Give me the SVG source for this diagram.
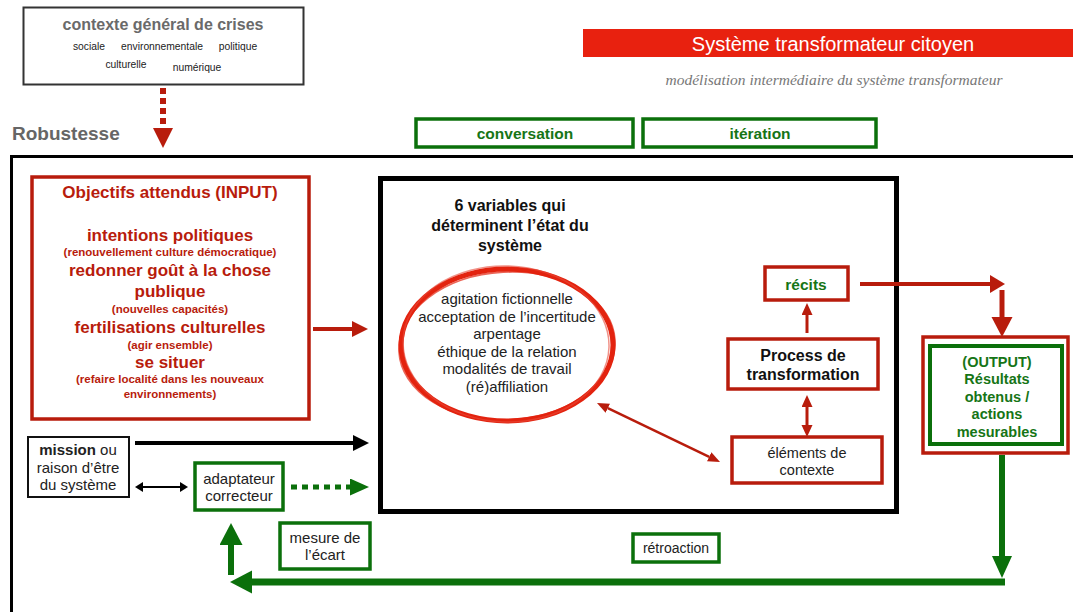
<svg xmlns="http://www.w3.org/2000/svg" width="1073" height="612" viewBox="0 0 1073 612">
<defs>
<style>
text{font-family:"Liberation Sans",Arial,sans-serif;}
.rbox{fill:#fff;stroke:#b81c0c;stroke-width:3.5;}
.gbox{fill:#fff;stroke:#0b700b;stroke-width:3.5;}
.kbox{fill:#fff;stroke:#111;stroke-width:2;}
.rt{fill:#b81c0c;font-weight:bold;text-anchor:middle;}
.gt{fill:#167516;font-weight:bold;text-anchor:middle;}
.kt{fill:#222;text-anchor:middle;}
.red{stroke:#b81c0c;fill:none;}
.grn{stroke:#0b700b;fill:none;}
.blk{stroke:#000;fill:none;}
</style>
<marker id="rA" markerUnits="userSpaceOnUse" markerWidth="20" markerHeight="22" refX="0" refY="8" orient="auto"><path d="M0,0 L16,8 L0,16 z" fill="#b81c0c"/></marker>
<marker id="rR" markerUnits="userSpaceOnUse" markerWidth="20" markerHeight="22" refX="0" refY="9" orient="auto"><path d="M0,0 L15,9 L0,18 z" fill="#b81c0c"/></marker>
<marker id="rD" markerUnits="userSpaceOnUse" markerWidth="24" markerHeight="24" refX="0" refY="10.5" orient="auto"><path d="M0,0 L20,10.5 L0,21 z" fill="#b81c0c"/></marker>
<marker id="rDot" markerUnits="userSpaceOnUse" markerWidth="24" markerHeight="24" refX="0" refY="10" orient="auto"><path d="M0,0 L20,10 L0,20 z" fill="#b81c0c"/></marker>
<marker id="rS" markerUnits="userSpaceOnUse" markerWidth="16" markerHeight="16" refX="0" refY="5.5" orient="auto-start-reverse"><path d="M0,0 L12,5.5 L0,11 z" fill="#b81c0c"/></marker>
<marker id="rT" markerUnits="userSpaceOnUse" markerWidth="16" markerHeight="16" refX="0" refY="5" orient="auto-start-reverse"><path d="M0,0 L12,5 L0,10 z" fill="#b81c0c"/></marker>
<marker id="kA" markerUnits="userSpaceOnUse" markerWidth="20" markerHeight="20" refX="0" refY="8" orient="auto"><path d="M0,0 L16,8 L0,16 z" fill="#000"/></marker>
<marker id="kS" markerUnits="userSpaceOnUse" markerWidth="12" markerHeight="12" refX="0" refY="5" orient="auto-start-reverse"><path d="M0,0 L8,5 L0,10 z" fill="#000"/></marker>
<marker id="gD" markerUnits="userSpaceOnUse" markerWidth="22" markerHeight="20" refX="0" refY="8.5" orient="auto"><path d="M0,0 L19,8.5 L0,17 z" fill="#0b700b"/></marker>
<marker id="gB" markerUnits="userSpaceOnUse" markerWidth="26" markerHeight="26" refX="0" refY="11.5" orient="auto"><path d="M0,0 L22,11.5 L0,23 z" fill="#0b700b"/></marker>
<marker id="gV" markerUnits="userSpaceOnUse" markerWidth="26" markerHeight="24" refX="0" refY="10" orient="auto"><path d="M0,0 L22,10 L0,20 z" fill="#0b700b"/></marker>
</defs>
<rect width="1073" height="612" fill="#fff"/>

<g id="frame">
<path d="M1073,156.5 H11.5 V612" fill="none" stroke="#000" stroke-width="3"/>
<text x="12" y="140" font-size="19" font-weight="bold" fill="#666">Robustesse</text>
</g>

<g id="title">
<rect x="583" y="29" width="490" height="28" fill="#e8210f"/>
<text x="833" y="51" font-size="20" fill="#fff" text-anchor="middle">Système transformateur citoyen</text>
<text x="834" y="85" font-size="15.5" fill="#777" font-style="italic" text-anchor="middle" style="font-family:'Liberation Serif',serif">modélisation intermédiaire du système transformateur</text>
</g>

<g id="contexte">
<rect x="23.5" y="7.5" width="280" height="77" fill="#fff" stroke="#333" stroke-width="2"/>
<text x="163" y="30" font-size="16" font-weight="bold" fill="#6a6a6a" text-anchor="middle">contexte général de crises</text>
<text x="89" y="50" font-size="10.3" class="kt">sociale</text>
<text x="162" y="50" font-size="10.3" class="kt">environnementale</text>
<text x="238" y="50" font-size="10.3" class="kt">politique</text>
<text x="126" y="68" font-size="10.3" class="kt">culturelle</text>
<text x="197" y="71" font-size="10.3" class="kt">numérique</text>
</g>

<g id="conversation">
<rect x="416" y="119" width="217" height="28" class="gbox"/>
<text x="525" y="139" font-size="15.5" class="gt">conversation</text>
</g>
<g id="iteration">
<rect x="643" y="119" width="233" height="28" class="gbox"/>
<text x="760" y="139" font-size="15.5" class="gt">itération</text>
</g>

<g id="input">
<rect x="32" y="177" width="277" height="242" class="rbox"/>
<text x="170" y="198" font-size="17" class="rt">Objectifs attendus (INPUT)</text>
<text x="170" y="241" font-size="17" class="rt">intentions politiques</text>
<text x="170" y="256" font-size="11.5" class="rt">(renouvellement culture démocratique)</text>
<text x="170" y="276" font-size="17" class="rt">redonner goût à la chose</text>
<text x="170" y="297" font-size="17" class="rt">publique</text>
<text x="170" y="313" font-size="11.5" class="rt">(nouvelles capacités)</text>
<text x="170" y="333" font-size="17" class="rt">fertilisations culturelles</text>
<text x="170" y="349" font-size="11.5" class="rt">(agir ensemble)</text>
<text x="170" y="368" font-size="17" class="rt">se situer</text>
<text x="170" y="383" font-size="11.5" class="rt">(refaire localité dans les nouveaux</text>
<text x="170" y="398" font-size="11.5" class="rt">environnements)</text>
</g>

<g id="systeme">
<rect x="380.5" y="178.5" width="516" height="333" fill="#fff" stroke="#000" stroke-width="5"/>
<text x="510" y="211" font-size="16" font-weight="bold" fill="#111" text-anchor="middle">6 variables qui</text>
<text x="510" y="231" font-size="16" font-weight="bold" fill="#111" text-anchor="middle">déterminent l’état du</text>
<text x="510" y="251" font-size="16" font-weight="bold" fill="#111" text-anchor="middle">système</text>
</g>

<g id="variables">
<ellipse cx="507" cy="345" rx="106" ry="76" fill="none" stroke="#e3230f" stroke-width="5"/>
<ellipse cx="507" cy="346" rx="108" ry="74" fill="none" stroke="#e3230f" stroke-width="2" opacity="0.7" transform="rotate(-3 507 346)"/>
<ellipse cx="506" cy="344" rx="103" ry="78" fill="none" stroke="#e84a38" stroke-width="1.5" opacity="0.6" transform="rotate(2 507 345)"/>
<text x="507" y="304" font-size="15" class="kt">agitation fictionnelle</text>
<text x="507" y="322" font-size="15" class="kt">acceptation de l’incertitude</text>
<text x="507" y="339" font-size="15" class="kt">arpentage</text>
<text x="507" y="357" font-size="15" class="kt">éthique de la relation</text>
<text x="507" y="374" font-size="15" class="kt">modalités de travail</text>
<text x="507" y="392" font-size="15" class="kt">(ré)affiliation</text>
</g>

<g id="recits">
<rect x="765" y="267" width="83" height="33" class="rbox"/>
<text x="806" y="290" font-size="15.5" class="gt">récits</text>
</g>
<g id="process">
<rect x="728" y="339" width="150" height="50" class="rbox"/>
<text x="803" y="361" font-size="16" font-weight="bold" fill="#111" text-anchor="middle">Process de</text>
<text x="803" y="380" font-size="16" font-weight="bold" fill="#111" text-anchor="middle">transformation</text>
</g>
<g id="elements">
<rect x="732" y="437" width="150" height="46" class="rbox"/>
<text x="807" y="458" font-size="14.5" class="kt">éléments de</text>
<text x="807" y="475" font-size="14.5" class="kt">contexte</text>
</g>

<g id="output">
<rect x="923" y="337" width="145" height="116" class="rbox"/>
<rect x="930" y="346" width="132" height="98" fill="#fff" stroke="#0b700b" stroke-width="4"/>
<text x="997" y="367" font-size="14.5" class="gt">(OUTPUT)</text>
<text x="997" y="384" font-size="14.5" class="gt">Résultats</text>
<text x="997" y="402" font-size="14.5" class="gt">obtenus /</text>
<text x="997" y="419" font-size="14.5" class="gt">actions</text>
<text x="997" y="437" font-size="14.5" class="gt">mesurables</text>
</g>

<g id="mission">
<rect x="28" y="437" width="101" height="60" class="kbox"/>
<text x="78" y="455" font-size="15" class="kt"><tspan font-weight="bold">mission</tspan> ou</text>
<text x="78" y="473" font-size="15" class="kt">raison d’être</text>
<text x="78" y="490" font-size="15" class="kt">du système</text>
</g>

<g id="adaptateur">
<rect x="195" y="463" width="88" height="47" class="gbox"/>
<text x="239" y="484" font-size="15" class="kt">adaptateur</text>
<text x="239" y="501" font-size="15" class="kt">correcteur</text>
</g>

<g id="mesure">
<rect x="280" y="523" width="90" height="46" class="gbox"/>
<text x="325" y="543" font-size="15" class="kt">mesure de</text>
<text x="325" y="560" font-size="15" class="kt">l’écart</text>
</g>

<g id="retroaction">
<rect x="633" y="534" width="86" height="28" class="gbox"/>
<text x="676" y="553" font-size="14" class="kt">rétroaction</text>
</g>

<g id="connectors">
<line x1="163" y1="88" x2="163" y2="128" class="red" stroke-width="6" stroke-dasharray="6 4" marker-end="url(#rDot)"/>
<line x1="313" y1="329" x2="352" y2="329" class="red" stroke-width="4" marker-end="url(#rA)"/>
<line x1="860" y1="284" x2="990" y2="284" class="red" stroke-width="4" marker-end="url(#rR)"/>
<line x1="1002" y1="290" x2="1002" y2="317" class="red" stroke-width="5" marker-end="url(#rD)"/>
<line x1="807" y1="333" x2="807" y2="315" class="red" stroke-width="3" marker-end="url(#rS)"/>
<line x1="807" y1="407" x2="807" y2="425" class="red" stroke-width="3" marker-start="url(#rS)" marker-end="url(#rS)"/>
<line x1="607.8" y1="408.2" x2="709.2" y2="456.8" class="red" stroke-width="2.5" marker-start="url(#rT)" marker-end="url(#rT)"/>
<line x1="135" y1="443" x2="353" y2="443" class="blk" stroke-width="4" marker-end="url(#kA)"/>
<line x1="143" y1="487" x2="180" y2="487" class="blk" stroke-width="2" marker-start="url(#kS)" marker-end="url(#kS)"/>
<line x1="291" y1="487" x2="350" y2="487" class="grn" stroke-width="5" stroke-dasharray="6 5" marker-end="url(#gD)"/>
<line x1="1002" y1="455" x2="1002" y2="556" class="grn" stroke-width="6" marker-end="url(#gV)"/>
<line x1="1005" y1="582" x2="252" y2="582" class="grn" stroke-width="7" marker-end="url(#gB)"/>
<line x1="231" y1="575" x2="231" y2="545" class="grn" stroke-width="6" marker-end="url(#gB)"/>
</g>
</svg>
